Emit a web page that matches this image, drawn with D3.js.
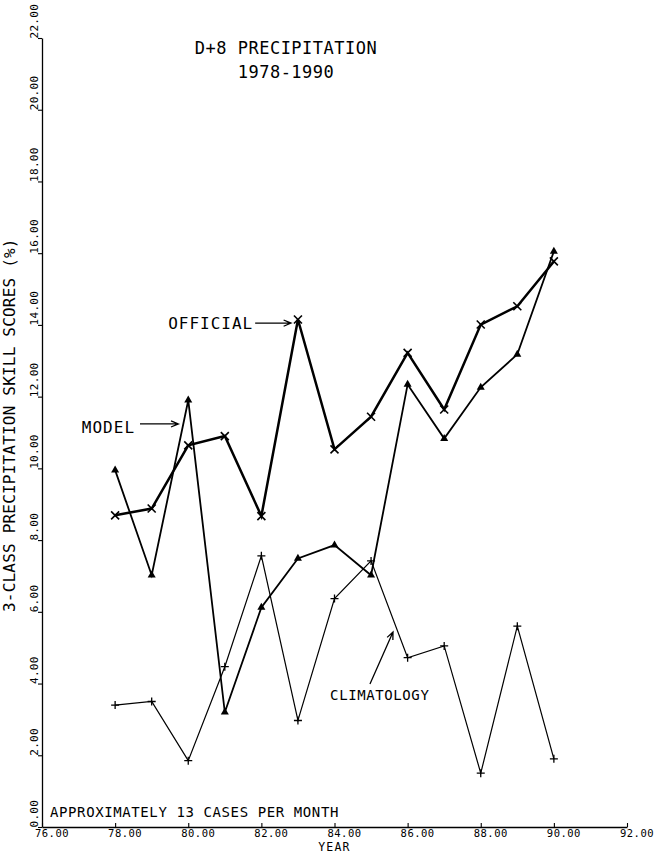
<!DOCTYPE html>
<html><head><meta charset="utf-8">
<script src="https://cdn.jsdelivr.net/npm/d3@7"></script>
<style>
body{margin:0;background:#fff;}
svg{display:block;background:#fff;}
text{font-family:"DejaVu Sans Mono","Liberation Mono",monospace;fill:#000;}
</style></head><body>
<svg id="c" width="656" height="854"></svg>
<script>
// ---- data ----
const years = [78, 79, 80, 81, 82, 83, 84, 85, 86, 87, 88, 89, 90];
const official = [8.69, 8.88, 10.64, 10.9, 8.67, 14.15, 10.53, 11.44, 13.22, 11.64, 14.01, 14.52, 15.77];
const model = [9.95, 7.02, 11.9, 3.2, 6.12, 7.49, 7.86, 7.02, 12.34, 10.83, 12.26, 13.18, 16.05];
const climatology = [3.4, 3.5, 1.85, 4.47, 7.56, 2.97, 6.37, 7.42, 4.72, 5.05, 1.5, 5.6, 1.9];
const xTicks = [76, 78, 80, 82, 84, 86, 88, 90, 92];
const yTicks = [0, 2, 4, 6, 8, 10, 12, 14, 16, 18, 20, 22];
const titleLines = ["D+8 PRECIPITATION", "1978-1990"];
const yTitle = "3-CLASS PRECIPITATION SKILL SCORES (%)";
const xTitle = "YEAR";
const note = "APPROXIMATELY 13 CASES PER MONTH";

const svg = d3.select("#c");
const x = d3.scaleLinear().domain([76, 92]).range([42, 627]);
const y = d3.scaleLinear().domain([0, 22]).range([827, 38]);
const fmt = d3.format(".2f");

// x axis
const gx = svg.append("g").attr("transform", `translate(0,${y(0)})`)
  .call(d3.axisBottom(x).tickValues(xTicks).tickSize(-4).tickSizeOuter(0).tickFormat(fmt));
gx.attr("font-family", "DejaVu Sans Mono").attr("font-size", 10.5);
gx.select(".domain").attr("stroke", "#000").attr("stroke-width", 1.3);
gx.selectAll(".tick line").attr("stroke", "#000").attr("stroke-width", 1.1);
gx.selectAll(".tick text").attr("x", 9.5).attr("y", 10).attr("dy", 0)
  .attr("text-anchor", "middle").attr("letter-spacing", 0.5);

// y axis
const gy = svg.append("g").attr("transform", `translate(${x(76)},0)`)
  .call(d3.axisLeft(y).tickValues(yTicks).tickSize(4).tickSizeOuter(0).tickFormat(fmt));
gy.attr("font-family", "DejaVu Sans Mono").attr("font-size", 11);
gy.select(".domain").attr("stroke", "#000").attr("stroke-width", 1.3);
gy.selectAll(".tick line").attr("stroke", "#000").attr("stroke-width", 1.1);
gy.selectAll(".tick text").attr("transform", "rotate(-90)")
  .attr("x", 0).attr("y", -4).attr("dy", 0).attr("text-anchor", "start").attr("letter-spacing", 0.3);

// axis titles
svg.append("text").attr("transform", `translate(15,612) rotate(-90)`)
  .attr("font-size", 16).attr("letter-spacing", 0.2).attr("text-anchor", "start").text(yTitle);
svg.append("text").attr("x", (x(76) + x(92)) / 2).attr("y", 851)
  .attr("font-size", 11.5).attr("letter-spacing", 1.2).attr("text-anchor", "middle").text(xTitle);

// title
svg.append("text").attr("x", 286).attr("y", y(21.55)).attr("font-size", 17)
  .attr("letter-spacing", 0.5).attr("text-anchor", "middle").text(titleLines[0]);
svg.append("text").attr("x", 286).attr("y", y(20.88)).attr("font-size", 17)
  .attr("letter-spacing", 0.5).attr("text-anchor", "middle").text(titleLines[1]);

// note
svg.append("text").attr("x", x(76.22)).attr("y", y(0.29)).attr("font-size", 14)
  .attr("letter-spacing", 0.6).text(note);

// series
function series(vals, width, marker) {
  const pts = years.map((d, i) => [d, vals[i]]);
  const line = d3.line().x(d => x(d[0])).y(d => y(d[1]));
  svg.append("path").datum(pts).attr("d", line).attr("fill", "none")
    .attr("stroke", "#000").attr("stroke-width", width).attr("stroke-linejoin", "miter");
  const g = svg.append("g");
  pts.forEach(p => {
    const gg = g.append("g").attr("transform", `translate(${x(p[0])},${y(p[1])})`);
    marker(gg);
  });
}
const xMark = g => g.append("path").attr("d", "M-4,-4L4,4M-4,4L4,-4").attr("stroke", "#000").attr("stroke-width", 1.6);
const plusMark = g => g.append("path").attr("d", "M-4,0H4M0,-4V4").attr("stroke", "#000").attr("stroke-width", 1.3);
const triMark = g => g.append("path").attr("d", d3.symbol(d3.symbolTriangle).size(28)()).attr("fill", "#000");

series(climatology, 1.2, plusMark);
series(model, 1.8, triMark);
series(official, 2.5, xMark);

// annotations (in data units)
function arrow(x1, y1, x2, y2) {
  const X1 = x(x1), Y1 = y(y1), X2 = x(x2), Y2 = y(y2);
  const a = Math.atan2(Y2 - Y1, X2 - X1), L = 8, s = 0.4;
  const p = `M${X1},${Y1}L${X2},${Y2}` +
    `M${X2 - L * Math.cos(a - s)},${Y2 - L * Math.sin(a - s)}L${X2},${Y2}` +
    `L${X2 - L * Math.cos(a + s)},${Y2 - L * Math.sin(a + s)}`;
  svg.append("path").attr("d", p).attr("fill", "none").attr("stroke", "#000").attr("stroke-width", 1.3);
}
svg.append("text").attr("x", x(77.09)).attr("y", y(10.99)).attr("font-size", 16).attr("letter-spacing", 1).text("MODEL");
arrow(78.68, 11.24, 79.73, 11.24);
svg.append("text").attr("x", x(79.45)).attr("y", y(13.89)).attr("font-size", 16).attr("letter-spacing", 1).text("OFFICIAL");
arrow(81.83, 14.05, 82.81, 14.05);
svg.append("text").attr("x", x(83.88)).attr("y", y(3.54)).attr("font-size", 14).attr("letter-spacing", 0.6).text("CLIMATOLOGY");
arrow(84.97, 3.99, 85.6, 5.44);
</script>
</body></html>
